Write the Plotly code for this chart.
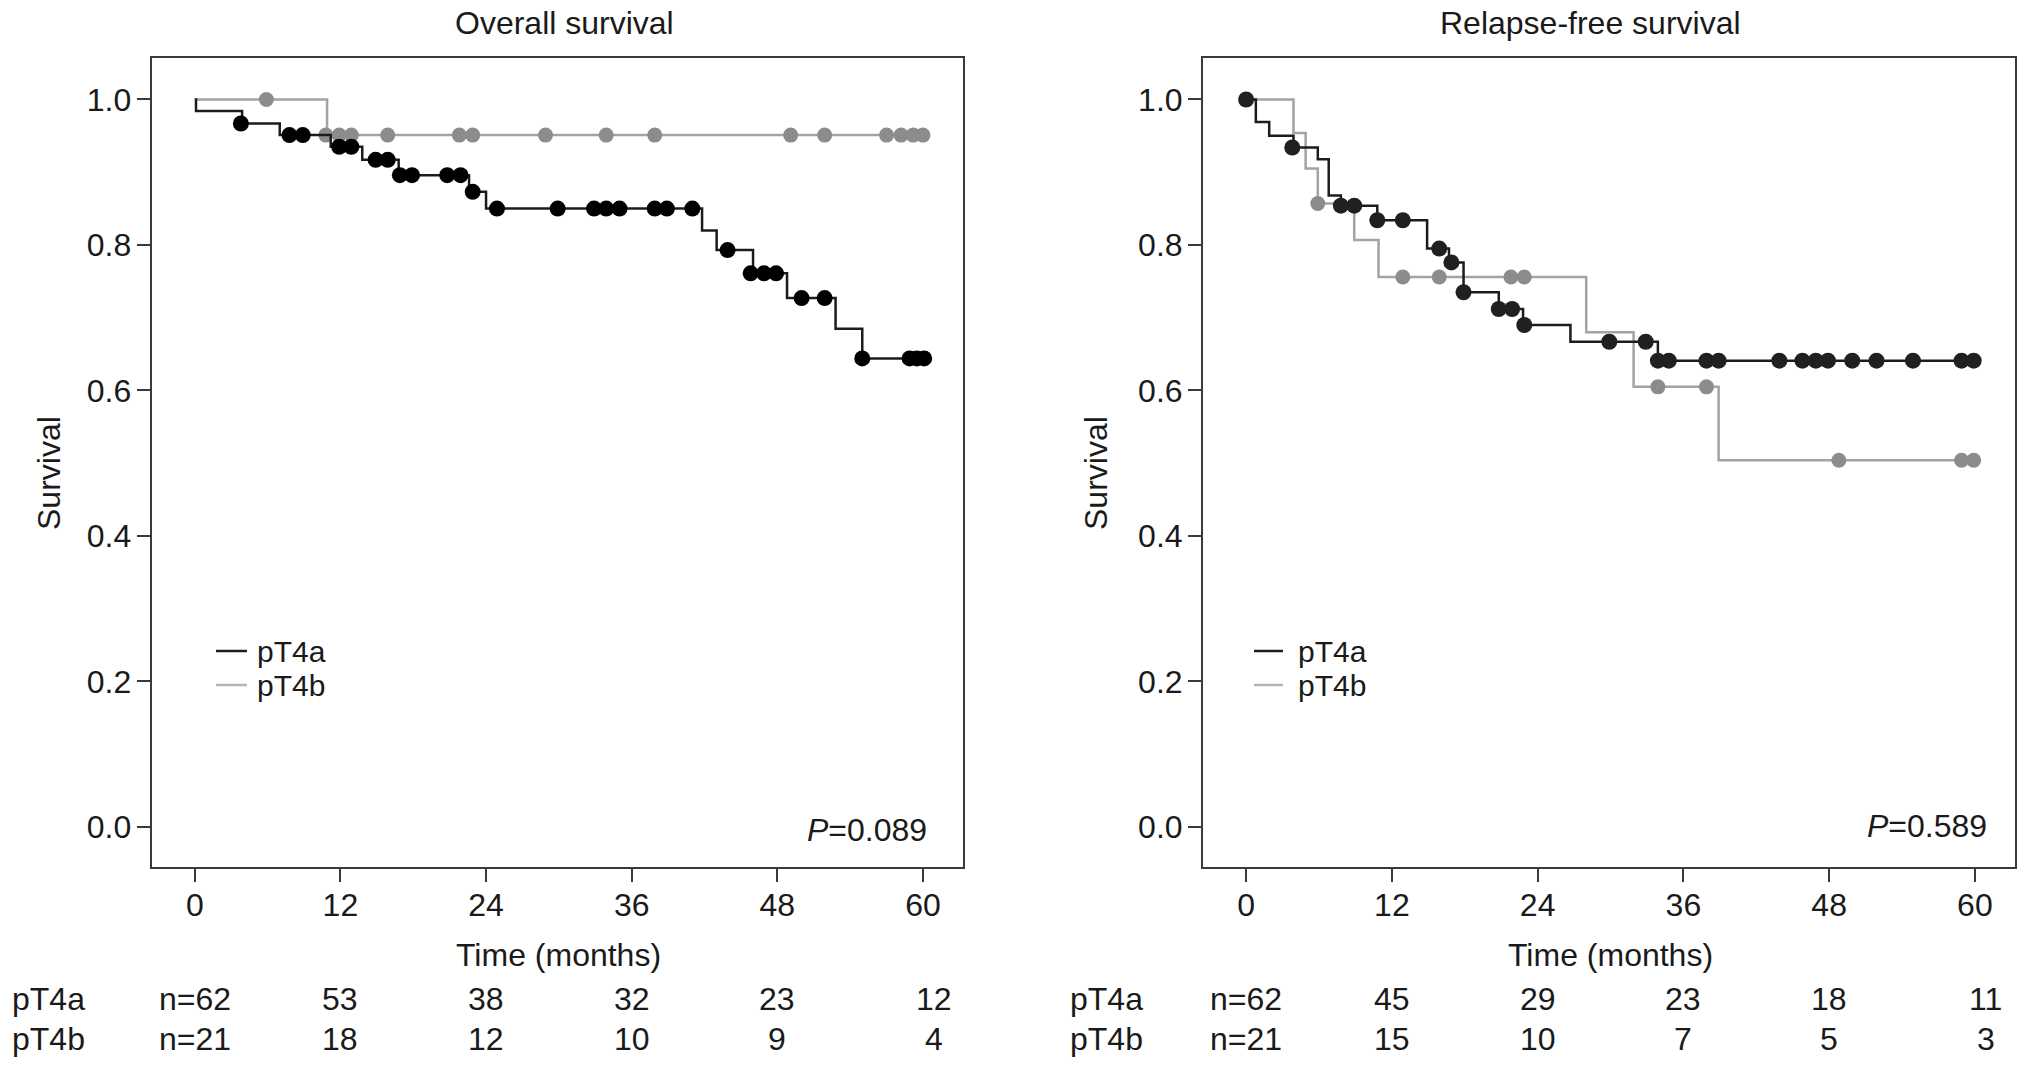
import plotly.graph_objects as go

# ---------------- data ----------------
month_ticks = [0, 12, 24, 36, 48, 60]
surv_ticks = [0.0, 0.2, 0.4, 0.6, 0.8, 1.0]
risk_times = [0, 12, 24, 36, 48, 60]

# Overall survival
os_a_t = [0, 0.1, 3.9, 7.0, 11.2, 13.8, 16.8, 22.6, 24.0, 41.8, 43.0, 46.0, 48.8, 52.8, 55.0, 60.1]
os_a_s = [1.0, 0.984, 0.967, 0.951, 0.935, 0.917, 0.896, 0.873, 0.850, 0.820, 0.793, 0.761, 0.727, 0.685, 0.644, 0.644]
os_a_ct = [3.8, 7.8, 8.9, 11.9, 12.9, 14.9, 15.9, 16.9, 17.9, 20.8, 21.9, 22.9, 24.9, 29.9, 32.9, 33.9,
           35.0, 37.9, 38.9, 41.0, 43.9, 45.8, 46.9, 47.9, 50.0, 51.9, 55.0, 58.9, 59.5, 60.1]
os_a_cs = [0.967, 0.951, 0.951, 0.935, 0.935, 0.917, 0.917, 0.896, 0.896, 0.896, 0.896, 0.873, 0.850, 0.850, 0.850, 0.850,
           0.850, 0.850, 0.850, 0.850, 0.793, 0.761, 0.761, 0.761, 0.727, 0.727, 0.644, 0.644, 0.644, 0.644]

os_b_t = [0, 10.9, 60.0]
os_b_s = [1.0, 0.951, 0.951]
os_b_ct = [5.9, 10.8, 11.9, 12.9, 15.9, 21.8, 22.9, 28.9, 33.9, 37.9, 49.1, 51.9, 57.0, 58.2, 59.2, 60.0]
os_b_cs = [1.0, 0.951, 0.951, 0.951, 0.951, 0.951, 0.951, 0.951, 0.951, 0.951, 0.951, 0.951, 0.951, 0.951, 0.951, 0.951]

# Relapse-free survival
rfs_a_t = [0, 0.8, 1.9, 3.9, 5.9, 6.8, 7.8, 10.8, 14.9, 16.7, 17.9, 20.8, 22.8, 26.7, 33.9, 60.0]
rfs_a_s = [1.0, 0.969, 0.950, 0.934, 0.918, 0.868, 0.854, 0.834, 0.795, 0.776, 0.735, 0.712, 0.690, 0.667, 0.641, 0.641]
rfs_a_ct = [0.0, 3.8, 7.8, 8.9, 10.8, 12.9, 15.9, 16.9, 17.9, 20.8, 21.9, 22.9, 29.9, 32.9, 33.9, 34.8,
            37.9, 38.9, 43.9, 45.8, 46.9, 47.9, 49.9, 51.9, 54.9, 58.9, 59.9]
rfs_a_cs = [1.0, 0.934, 0.854, 0.854, 0.834, 0.834, 0.795, 0.776, 0.735, 0.712, 0.712, 0.690, 0.667, 0.667, 0.641, 0.641,
            0.641, 0.641, 0.641, 0.641, 0.641, 0.641, 0.641, 0.641, 0.641, 0.641, 0.641]

rfs_b_t = [0, 3.9, 4.9, 5.9, 8.9, 10.9, 28.0, 31.9, 38.9, 60.0]
rfs_b_s = [1.0, 0.954, 0.905, 0.857, 0.807, 0.756, 0.680, 0.605, 0.504, 0.504]
rfs_b_ct = [5.9, 12.9, 15.9, 21.8, 22.9, 33.9, 37.9, 48.8, 58.9, 59.9]
rfs_b_cs = [0.857, 0.756, 0.756, 0.756, 0.756, 0.605, 0.605, 0.504, 0.504, 0.504]

group_names = ["pT4a", "pT4b"]
os_risk_a = ["n=62", "53", "38", "32", "23", "12"]
os_risk_b = ["n=21", "18", "12", "10", "9", "4"]
rfs_risk_a = ["n=62", "45", "29", "23", "18", "11"]
rfs_risk_b = ["n=21", "15", "10", "7", "5", "3"]

panel_titles = ["Overall survival", "Relapse-free survival"]
p_values = ["0.089", "0.589"]

# ---------------- styling ----------------
FONT = "Liberation Sans, Arial, Helvetica, sans-serif"
FS = 32
LEG_FS = 30
TXT = "#1a1a1a"
BLACK_LINE = "#1c1c1c"
GRAY_LINE = "#a3a3a3"
BLACK_MK = ["#000000", "#202020"]
GRAY_MK = "#8c8c8c"
AX = "#3a3a3a"

fig = go.Figure()

panels = [
    (os_a_t, os_a_s, os_a_ct, os_a_cs, os_b_t, os_b_s, os_b_ct, os_b_cs, "x", "y"),
    (rfs_a_t, rfs_a_s, rfs_a_ct, rfs_a_cs, rfs_b_t, rfs_b_s, rfs_b_ct, rfs_b_cs, "x2", "y2"),
]
for i, (at, as_, act, acs, bt, bs, bct, bcs, xa, ya) in enumerate(panels):
    fig.add_trace(go.Scatter(x=bt, y=bs, mode="lines", line=dict(shape="hv", color=GRAY_LINE, width=2.5),
                             name=group_names[1], showlegend=False, xaxis=xa, yaxis=ya))
    fig.add_trace(go.Scatter(x=bct, y=bcs, mode="markers", marker=dict(size=15, color=GRAY_MK),
                             name=group_names[1] + " censored", showlegend=False, xaxis=xa, yaxis=ya))
    fig.add_trace(go.Scatter(x=at, y=as_, mode="lines", line=dict(shape="hv", color=BLACK_LINE, width=2.5),
                             name=group_names[0], showlegend=False, xaxis=xa, yaxis=ya))
    fig.add_trace(go.Scatter(x=act, y=acs, mode="markers", marker=dict(size=16, color=BLACK_MK[i]),
                             name=group_names[0] + " censored", showlegend=False, xaxis=xa, yaxis=ya))

W, H = 2032, 1070
ytop = 1 - 58 / H
ybot = 1 - 867 / H
dom_x = [[151.7 / W, 963 / W], [1203 / W, 2015 / W]]

axis_common = dict(
    showline=True, linecolor=AX, linewidth=2, mirror=True,
    ticks="outside", ticklen=13, tickwidth=2, tickcolor=AX,
    showgrid=False, zeroline=False,
    tickfont=dict(family=FONT, size=FS, color=TXT),
)
xr = [-3.55, 63.3]
yr = [-0.055, 1.057]

fig.update_layout(
    width=W, height=H, margin=dict(l=0, r=0, t=0, b=0),
    paper_bgcolor="white", plot_bgcolor="white",
    font=dict(family=FONT, size=FS, color=TXT),
    showlegend=False,
)
fig.update_layout(
    xaxis=dict(domain=dom_x[0], range=xr, tickvals=month_ticks, anchor="y", ticklabelstandoff=-4, **axis_common),
    yaxis=dict(domain=[ybot, ytop], range=yr, tickvals=surv_ticks, tickformat=".1f", anchor="x",
               ticklabelstandoff=-1, **axis_common),
    xaxis2=dict(domain=dom_x[1], range=xr, tickvals=month_ticks, anchor="y2", ticklabelstandoff=-4, **axis_common),
    yaxis2=dict(domain=[ybot, ytop], range=yr, tickvals=surv_ticks, tickformat=".1f", anchor="x2",
                ticklabelstandoff=-1, **axis_common),
)

ann = []
shapes = []
xrefs = ["x", "x2"]
title_x = [564 / W, 1590 / W]
ylab_x = [49 / W, 1096 / W]
rowlab_x = [10 / W, 1068 / W]
pval_x = [929 / W, 1989 / W]
pval_y = [1 - 830 / H, 1 - 826 / H]
leg_line = [(216 / W, 247 / W), (1254 / W, 1283 / W)]
leg_txt_x = [255 / W, 1296 / W]
leg_y = [1 - 651 / H, 1 - 685 / H]
risk_rows = [(os_risk_a, os_risk_b), (rfs_risk_a, rfs_risk_b)]
row_y = [1 - 999 / H, 1 - 1039 / H]

for i in range(2):
    ann.append(dict(text=panel_titles[i], x=title_x[i], y=1 - 23 / H, xref="paper", yref="paper",
                    showarrow=False, xanchor="center", yanchor="middle", font=dict(size=FS)))
    ann.append(dict(text="Survival", x=ylab_x[i], y=1 - 473 / H, xref="paper", yref="paper", textangle=-90,
                    showarrow=False, xanchor="center", yanchor="middle", font=dict(size=FS)))
    ann.append(dict(text="Time (months)", x=30, y=1 - 955 / H, xref=xrefs[i], yref="paper",
                    showarrow=False, xanchor="center", yanchor="middle", font=dict(size=FS)))
    ann.append(dict(text="<i>P</i>=" + p_values[i], x=pval_x[i], y=pval_y[i], xref="paper", yref="paper",
                    showarrow=False, xanchor="right", yanchor="middle", font=dict(size=FS)))
    for k, (nm, col) in enumerate(zip(group_names, [BLACK_LINE, "#b5b5b5"])):
        shapes.append(dict(type="line", xref="paper", yref="paper", x0=leg_line[i][0], x1=leg_line[i][1],
                           y0=leg_y[k], y1=leg_y[k], line=dict(color=col, width=2.5)))
        ann.append(dict(text=nm, x=leg_txt_x[i], y=leg_y[k], xref="paper", yref="paper",
                        showarrow=False, xanchor="left", yanchor="middle", font=dict(size=LEG_FS)))
    for k in range(2):
        ann.append(dict(text=group_names[k], x=rowlab_x[i], y=row_y[k], xref="paper", yref="paper",
                        showarrow=False, xanchor="left", yanchor="middle", font=dict(size=FS)))
        vals = risk_rows[i][k]
        for j, (t, v) in enumerate(zip(risk_times, vals)):
            ann.append(dict(text=v, x=t, y=row_y[k], xref=xrefs[i], yref="paper", showarrow=False,
                            xanchor="center", yanchor="middle", xshift=(11 if j == len(vals) - 1 else 0),
                            font=dict(size=FS)))

fig.update_layout(annotations=ann, shapes=shapes)
fig.write_html("out.html", config={"displayModeBar": False},
               post_script="document.body.style.margin='0';")
